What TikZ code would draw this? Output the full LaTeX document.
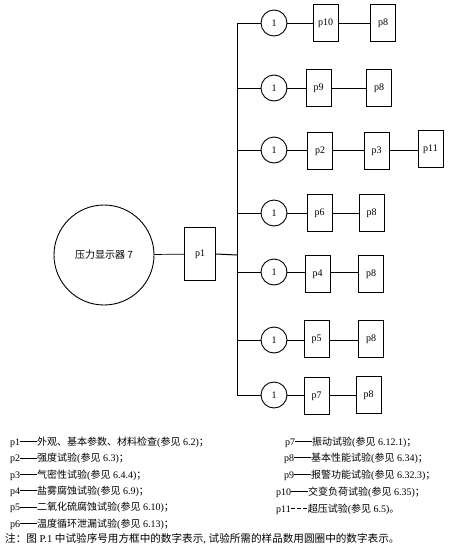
\documentclass[tikz,border=0pt]{standalone}
\usepackage{fontspec}
\setmainfont{Liberation Serif}
\newfontfamily\cjk{Noto Sans CJK SC}
\newcommand\zh[1]{{\cjk #1}}
\newcommand\dashr{\rule[3.3pt]{17pt}{0.6pt}}
\newcommand\dashrb{\rule[3.3pt]{4pt}{0.6pt}\hspace{2pt}\rule[3.3pt]{4pt}{0.6pt}\hspace{2pt}\rule[3.3pt]{4pt}{0.6pt}\hspace{1pt}}
\begin{document}
\begin{tikzpicture}[x=1pt,y=-1pt,
  testbox/.style={draw,line width=0.9pt,minimum width=25pt,minimum height=37pt,inner sep=0pt,font=\fontsize{10}{12}\selectfont},
  samp/.style={draw,circle,line width=0.9pt,minimum size=26pt,inner sep=0pt,font=\fontsize{10}{12}\selectfont},
  conn/.style={line width=0.7pt},
  legend/.style={anchor=west,inner sep=0pt,font=\fontsize{10}{12}\selectfont}]
\useasboundingbox (0,0) rectangle (448,549);
% main parts
\node[draw,circle,line width=0.9pt,minimum size=100pt,inner sep=0pt] (dev) at (104,255) {\zh{\fontsize{10}{12}\selectfont 压力显示器 7}};
\node[draw,line width=0.9pt,minimum width=31pt,minimum height=53pt,inner sep=0pt,font=\fontsize{10}{12}\selectfont] (p1) at (200,254) {p1};
\coordinate (tp) at (237,255);
\coordinate (t1) at (237,23);
\coordinate (t2) at (237,88);
\coordinate (t3) at (237,150);
\coordinate (t4) at (237,213);
\coordinate (t5) at (237,272);
\coordinate (t6) at (237,340);
\coordinate (t7) at (237,395);
\draw[conn] (dev) -- (p1);
\draw[line width=1pt] (p1.east) -- (tp);
\draw[conn] (t1) -- (t7);
% row 1
\node[samp] (c1) at (274,23) {1};
\node[testbox] (a1) at (325.5,23) {p10};
\node[testbox] (b1) at (383,23) {p8};
% row 2
\node[samp] (c2) at (274,88) {1};
\node[testbox] (a2) at (318.5,88) {p9};
\node[testbox] (b2) at (379,88) {p8};
% row 3
\node[samp] (c3) at (274,150) {1};
\node[testbox] (a3) at (320,151) {p2};
\node[testbox] (b3) at (376.5,151) {p3};
\node[testbox] (d3) at (430.5,149) {p11};
% row 4
\node[samp] (c4) at (274,213) {1};
\node[testbox] (a4) at (319.5,213) {p6};
\node[testbox] (b4) at (371.5,213) {p8};
% row 5
\node[samp] (c5) at (274,272) {1};
\node[testbox] (a5) at (317.5,274) {p4};
\node[testbox] (b5) at (371,274) {p8};
% row 6
\node[samp] (c6) at (274,340) {1};
\node[testbox] (a6) at (316.5,339) {p5};
\node[testbox] (b6) at (371,339) {p8};
% row 7
\node[samp] (c7) at (274,395) {1};
\node[testbox] (a7) at (316.5,396) {p7};
\node[testbox] (b7) at (368.5,395) {p8};
% connectors
\draw[conn] (t1) -- (c1) -- (a1.west |- c1);
\draw[conn] (a1) -- (b1);
\draw[conn] (t2) -- (c2) -- (a2.west |- c2);
\draw[conn] (a2) -- (b2);
\draw[conn] (t3) -- (c3) -- (a3.west |- c3);
\draw[conn] (a3.east |- c3) -- (b3.west |- c3);
\draw[conn] (b3.east |- c3) -- (d3.west |- c3);
\draw[conn] (t4) -- (c4) -- (a4.west |- c4);
\draw[conn] (a4) -- (b4);
\draw[conn] (t5) -- (c5) -- (a5.west |- c5);
\draw[conn] (a5.east |- c5) -- (b5.west |- c5);
\draw[conn] (t6) -- (c6) -- (a6.west |- c6);
\draw[conn] (a6.east |- c6) -- (b6.west |- c6);
\draw[conn] (t7) -- (c7) -- (a7.west |- c7);
\draw[conn] (a7.east |- c7) -- (b7.west |- c7);
% legend left
\node[legend] (l1) at (10,442) {p1\dashr\zh{外观、基本参数、材料检查}(\zh{参见} 6.2)\zh{；}};
\node[legend] (l2) at (10,458.5) {p2\dashr\zh{强度试验}(\zh{参见} 6.3)\zh{；}};
\node[legend] (l3) at (10,475) {p3\dashr\zh{气密性试验}(\zh{参见} 6.4.4)\zh{；}};
\node[legend] (l4) at (10,491) {p4\dashr\zh{盐雾腐蚀试验}(\zh{参见} 6.9)\zh{；}};
\node[legend] (l5) at (10,507.5) {p5\dashr\zh{二氧化硫腐蚀试验}(\zh{参见} 6.10)\zh{；}};
\node[legend] (l6) at (10,524) {p6\dashr\zh{温度循环泄漏试验}(\zh{参见} 6.13)\zh{；}};
% legend right
\node[legend] (r7) at (285,442) {p7\dashr\zh{振动试验}(\zh{参见} 6.12.1)\zh{；}};
\node[legend] (r8) at (284,458) {p8\dashr\zh{基本性能试验}(\zh{参见} 6.34)\zh{；}};
\node[legend] (r9) at (284,475) {p9\dashr\zh{报警功能试验}(\zh{参见} 6.32.3)\zh{；}};
\node[legend] (r10) at (276,492) {p10\dashr\zh{交变负荷试验}(\zh{参见} 6.35)\zh{；}};
\node[legend] (r11) at (276,509) {p11\dashrb\zh{超压试验}(\zh{参见} 6.5)\zh{。}};
% note
\node[legend,font=\fontsize{10.6}{12}\selectfont] (note) at (5,539) {\zh{注：图} P.1 \zh{中试验序号用方框中的数字表示}, \zh{试验所需的样品数用圆圈中的数字表示。}};
\end{tikzpicture}
\end{document}
